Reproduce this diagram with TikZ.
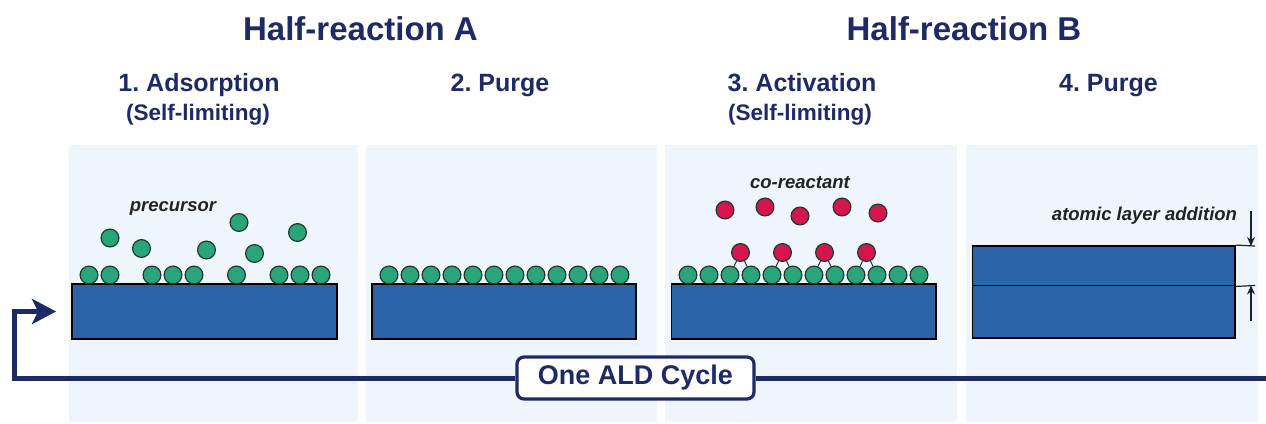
\documentclass[tikz,border=0pt]{standalone}
\usepackage{fontspec}
\setmainfont{Liberation Sans}
\usetikzlibrary{arrows.meta,positioning}
\definecolor{navy}{HTML}{1E2A66}
\definecolor{subblue}{HTML}{2B63A9}
\definecolor{panelbg}{HTML}{EEF5FC}
\definecolor{atomgreen}{HTML}{2AA57B}
\definecolor{atomred}{HTML}{D5154C}
\definecolor{atomline}{HTML}{1F3A32}
\definecolor{labelgray}{HTML}{222222}
\frenchspacing
\begin{document}
\begin{tikzpicture}[x=1pt,y=-1pt,node distance=21pt,
  panel/.style={fill=panelbg},
  substrate/.style={rectangle,draw=black,line width=1.8pt,fill=subblue,inner sep=0pt},
  atom/.style={circle,draw=atomline,line width=1.2pt,fill=atomgreen,minimum size=17.8pt,inner sep=0pt},
  ratom/.style={atom,fill=atomred},
  bond/.style={draw=atomline,line width=1pt,double=atomgreen,double distance=3pt},
  halfhead/.style={anchor=base,text=navy,font=\fontsize{33}{36}\selectfont\bfseries},
  stephead/.style={anchor=base,text=navy,font=\fontsize{25}{28}\selectfont\bfseries},
  stepnote/.style={anchor=base,text=navy,font=\fontsize{22.5}{25}\selectfont\bfseries},
  gaslabel/.style={text=labelgray,font=\fontsize{18.5}{20}\selectfont\bfseries\itshape},
  cycleline/.style={draw=navy,line width=5pt},
  tick/.style={draw=labelgray,line width=1.2pt}]

\useasboundingbox (0,0) rectangle (1266,423);

\fill[panel] (69,145) rectangle (358,422);
\fill[panel] (366,145) rectangle (657,422);
\fill[panel] (665,145) rectangle (957,422);
\fill[panel] (966,145) rectangle (1258,422);

\node[halfhead] (hA) at (360.5,40) {Half-reaction A};
\node[halfhead] (hB) at (964,40)   {Half-reaction B};
\node[stephead] (st1) at (199,91.7)  {1. Adsorption};
\node[stepnote] (nt1) at (198,120.5) {(Self-limiting)};
\node[stephead] (st2) at (500,91.7)  {2. Purge};
\node[stephead] (st3) at (802,91.7)  {3. Activation};
\node[stepnote] (nt3) at (800,120.5) {(Self-limiting)};
\node[stephead] (st4) at (1108.5,91.7) {4. Purge};

\node[substrate,minimum width=265pt,minimum height=55pt] (sub1) at (204.5,311.5) {};
\node[substrate,minimum width=264pt,minimum height=55pt] (sub2) at (504,311.5) {};
\node[substrate,minimum width=264.5pt,minimum height=55pt] (sub3) at (803.75,311.5) {};
\node[substrate,minimum width=262.5pt,minimum height=39.5pt] (sub4a) at (1103.75,265.75) {};
\node[substrate,minimum width=262.5pt,minimum height=52.5pt] (sub4b) at (1103.75,311.75) {};

\node[gaslabel] (prec) at (173,208) {precursor};
\node[atom] (a1) at (89,275)  {};
\node[atom] (a2) at (110,275) {};
\node[atom] (a3) at (152,275) {};
\node[atom] (a4) at (173,275) {};
\node[atom] (a5) at (194,275) {};
\node[atom] (a6) at (236.5,275) {};
\node[atom] (a7) at (279,275) {};
\node[atom] (a8) at (300,275) {};
\node[atom] (a9) at (321,275) {};
\node[atom] (f1) at (110,238) {};
\node[atom] (f2) at (141.5,248.5) {};
\node[atom] (f3) at (206.5,250) {};
\node[atom] (f4) at (239,222.5) {};
\node[atom] (f5) at (254.5,253.5) {};
\node[atom] (f6) at (297.5,232.5) {};

\node[atom] (p1) at (389,275) {};
\node[atom] (p2)  [right of=p1]  {};
\node[atom] (p3)  [right of=p2]  {};
\node[atom] (p4)  [right of=p3]  {};
\node[atom] (p5)  [right of=p4]  {};
\node[atom] (p6)  [right of=p5]  {};
\node[atom] (p7)  [right of=p6]  {};
\node[atom] (p8)  [right of=p7]  {};
\node[atom] (p9)  [right of=p8]  {};
\node[atom] (p10) [right of=p9]  {};
\node[atom] (p11) [right of=p10] {};
\node[atom] (p12) [right of=p11] {};

\node[gaslabel] (coreac) at (800,183) {co-reactant};
\node[atom] (s1) at (688,275) {};
\node[atom] (s2)  [right of=s1]  {};
\node[atom] (s3)  [right of=s2]  {};
\node[atom] (s4)  [right of=s3]  {};
\node[atom] (s5)  [right of=s4]  {};
\node[atom] (s6)  [right of=s5]  {};
\node[atom] (s7)  [right of=s6]  {};
\node[atom] (s8)  [right of=s7]  {};
\node[atom] (s9)  [right of=s8]  {};
\node[atom] (s10) [right of=s9]  {};
\node[atom] (s11) [right of=s10] {};
\node[atom] (s12) [right of=s11] {};
\node[ratom] (b1) at (740.5,252.5) {};
\node[ratom] (b2) at (782.5,252.5) {};
\node[ratom] (b3) at (824.5,252.5) {};
\node[ratom] (b4) at (866.5,252.5) {};
\node[ratom] (r1) at (725,210) {};
\node[ratom] (r2) at (765,207) {};
\node[ratom] (r3) at (800,216) {};
\node[ratom] (r4) at (842,207) {};
\node[ratom] (r5) at (878,213) {};

\path[bond] (b1) edge (s3) edge (s4)
            (b2) edge (s5) edge (s6)
            (b3) edge (s7) edge (s8)
            (b4) edge (s9) edge (s10);

\node[gaslabel] (addlab) at (1144.5,216) {atomic layer addition};
\coordinate (tk1) at (1255,246);
\coordinate (tk2) at (1255,285.5);
\coordinate (arD) at (1251,211);
\coordinate (arU) at (1251,321);
\draw[tick] (sub4a.north east) -- (tk1);
\draw[tick] (sub4a.south east) -- (tk2);
\draw[tick,-{Stealth[length=9pt,width=8pt]}] (arD) -- (arD |- tk1);
\draw[tick,-{Stealth[length=9pt,width=8pt]}] (arU) -- (arU |- tk2);

\node[draw=navy,line width=3.2pt,rounded corners=7pt,fill=white,text=navy,
      minimum width=237pt,minimum height=42pt,
      font=\fontsize{27}{30}\selectfont\bfseries] (cyc) at (635.5,378) {One ALD Cycle};
\coordinate (turn) at (14,378);
\coordinate (rend) at (1272,378);
\draw[cycleline,shorten >=15pt,-{Stealth[length=24pt,width=25pt,inset=6pt]}]
  (cyc.west) -- (turn) |- (sub1.west);
\draw[cycleline] (cyc.east) -- (rend);
\end{tikzpicture}
\end{document}
